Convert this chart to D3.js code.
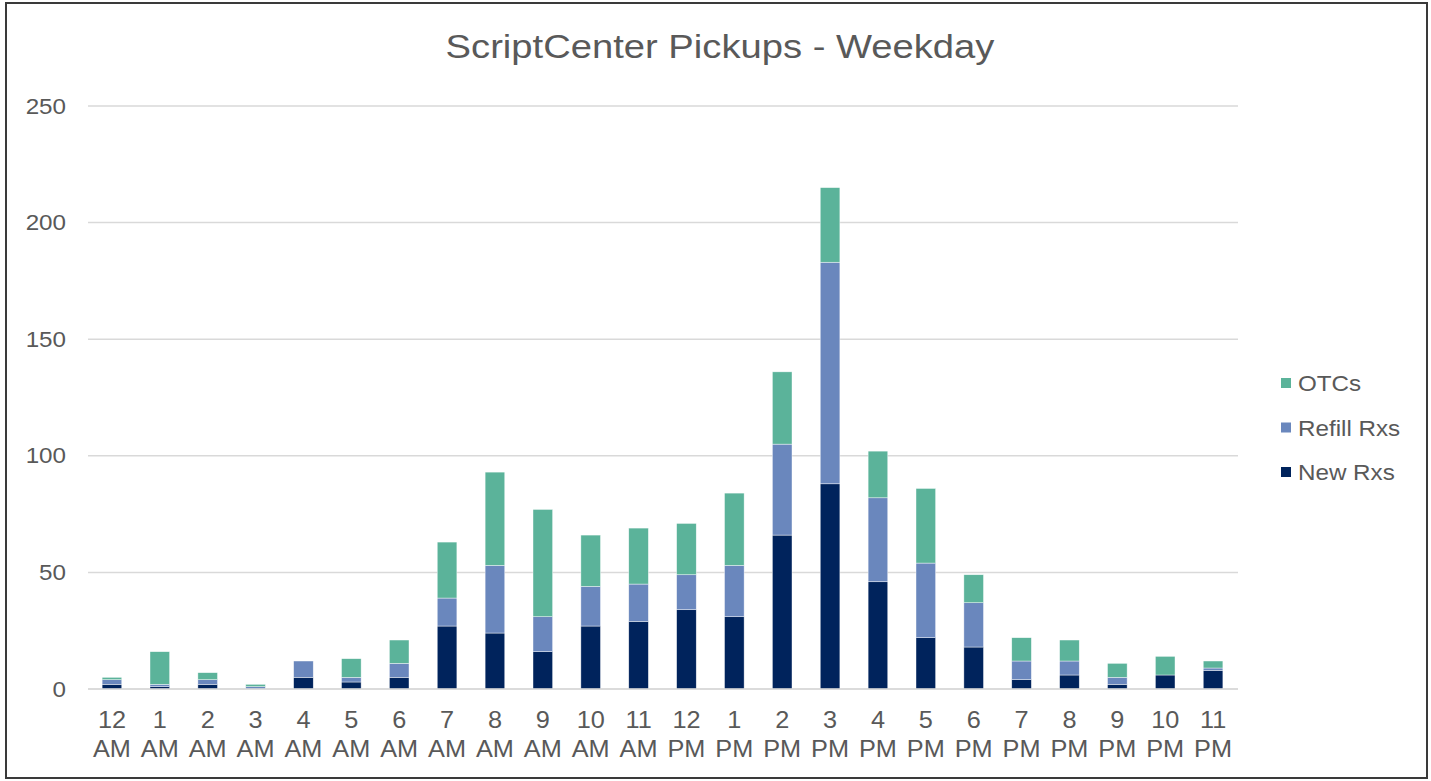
<!DOCTYPE html>
<html>
<head>
<meta charset="utf-8">
<script src="https://cdn.jsdelivr.net/npm/d3@7"></script>
<style>
  html, body { margin: 0; padding: 0; background: #fff; }
  svg { display: block; font-family: "Liberation Sans", Arial, sans-serif; }
</style>
</head>
<body>
<svg id="chart" width="1431" height="781"></svg>
<script>
const hours = ["12 AM","1 AM","2 AM","3 AM","4 AM","5 AM","6 AM","7 AM","8 AM","9 AM","10 AM","11 AM",
               "12 PM","1 PM","2 PM","3 PM","4 PM","5 PM","6 PM","7 PM","8 PM","9 PM","10 PM","11 PM"];
const newRxs    = [2, 1, 2, 0, 5, 3, 5, 27, 24, 16, 27, 29, 34, 31, 66, 88, 46, 22, 18, 4, 6, 2, 6, 8];
const refillRxs = [2, 1, 2, 1, 7, 2, 6, 12, 29, 15, 17, 16, 15, 22, 39, 95, 36, 32, 19, 8, 6, 3, 0, 1];
const otcs      = [1, 14, 3, 1, 0, 8, 10, 24, 40, 46, 22, 24, 22, 31, 31, 32, 20, 32, 12, 10, 9, 6, 8, 3];
const yTicks = [0, 50, 100, 150, 200, 250];
const seriesNames = ["New Rxs", "Refill Rxs", "OTCs"];
const seriesColors = ["#00235C", "#6A87BD", "#5BB39A"];

const svg = d3.select("#chart");
const textColor = "#595959";
const sx = 1.1;   // horizontal stretch of the small text in the reference

// border
svg.append("rect").attr("x", 6).attr("y", 3).attr("width", 1421).attr("height", 775)
  .attr("fill", "#fff").attr("stroke", "#3a3a3a").attr("stroke-width", 2);

// title
svg.append("g").attr("transform", "translate(720,58) scale(1.14,1)")
  .append("text").attr("x", 0).attr("y", 0).attr("text-anchor", "middle")
  .attr("font-size", 33.5).attr("fill", textColor).text("ScriptCenter Pickups - Weekday");

const x = d3.scaleBand().domain(hours).range([88, 1237]).paddingInner(0.59).paddingOuter(0.295);
const y = d3.scaleLinear().domain([0, 250]).range([689, 106]);

// gridlines
svg.append("g").selectAll("line").data(yTicks).join("line")
  .attr("x1", 88).attr("x2", 1238)
  .attr("y1", d => y(d)).attr("y2", d => y(d))
  .attr("stroke", "#d9d9d9").attr("stroke-width", 1.5);

// y axis labels
const yAxis = d3.axisLeft(y).tickValues(yTicks).tickSize(0).tickPadding(0);
const yg = svg.append("g").attr("transform", "translate(66,0)").call(yAxis);
yg.select(".domain").remove();
yg.selectAll("text").attr("x", 0).attr("font-size", 22).attr("fill", textColor)
  .attr("font-family", "Liberation Sans, Arial, sans-serif")
  .attr("transform", `scale(${sx},1)`);

// stacked data
const rows = hours.map((h, i) => ({hour: h, "New Rxs": newRxs[i], "Refill Rxs": refillRxs[i], "OTCs": otcs[i]}));
const stack = d3.stack().keys(seriesNames)(rows);

svg.append("g").selectAll("g").data(stack).join("g")
  .attr("fill", (d, i) => seriesColors[i])
  .selectAll("rect").data(d => d).join("rect")
  .attr("x", d => x(d.data.hour))
  .attr("width", x.bandwidth())
  .attr("y", d => y(d[1]))
  .attr("height", d => Math.max(0, y(d[0]) - y(d[1])))
  .attr("stroke", "#fff").attr("stroke-width", 0.6).attr("stroke-opacity", 0.7);

// baseline axis line
svg.append("line").attr("x1", 88).attr("x2", 1238).attr("y1", y(0)).attr("y2", y(0))
  .attr("stroke", "#d9d9d9").attr("stroke-width", 1.5);

// x labels (two lines)
const xg = svg.append("g");
hours.forEach(h => {
  const parts = h.split(" ");
  const cx = x(h) + x.bandwidth() / 2;
  const g = xg.append("g").attr("transform", `translate(${cx},0) scale(${sx},1)`);
  const t = g.append("text").attr("text-anchor", "middle").attr("font-size", 23).attr("fill", textColor);
  t.append("tspan").attr("x", 0).attr("y", 728).text(parts[0]);
  t.append("tspan").attr("x", 0).attr("y", 757).text(parts[1]);
});

// legend
const legendItems = ["OTCs", "Refill Rxs", "New Rxs"];
const legendColors = ["#5BB39A", "#6A87BD", "#00235C"];
const lg = svg.append("g").selectAll("g").data(legendItems).join("g")
  .attr("transform", (d, i) => `translate(1281, ${383 + i * 44.5})`);
lg.append("rect").attr("x", 0).attr("y", -5).attr("width", 10).attr("height", 10)
  .attr("fill", (d, i) => legendColors[i]);
lg.append("text").attr("x", 0).attr("y", 8).attr("font-size", 22).attr("fill", textColor)
  .attr("transform", `translate(17,0) scale(${sx},1)`).text(d => d);
</script>
</body>
</html>
